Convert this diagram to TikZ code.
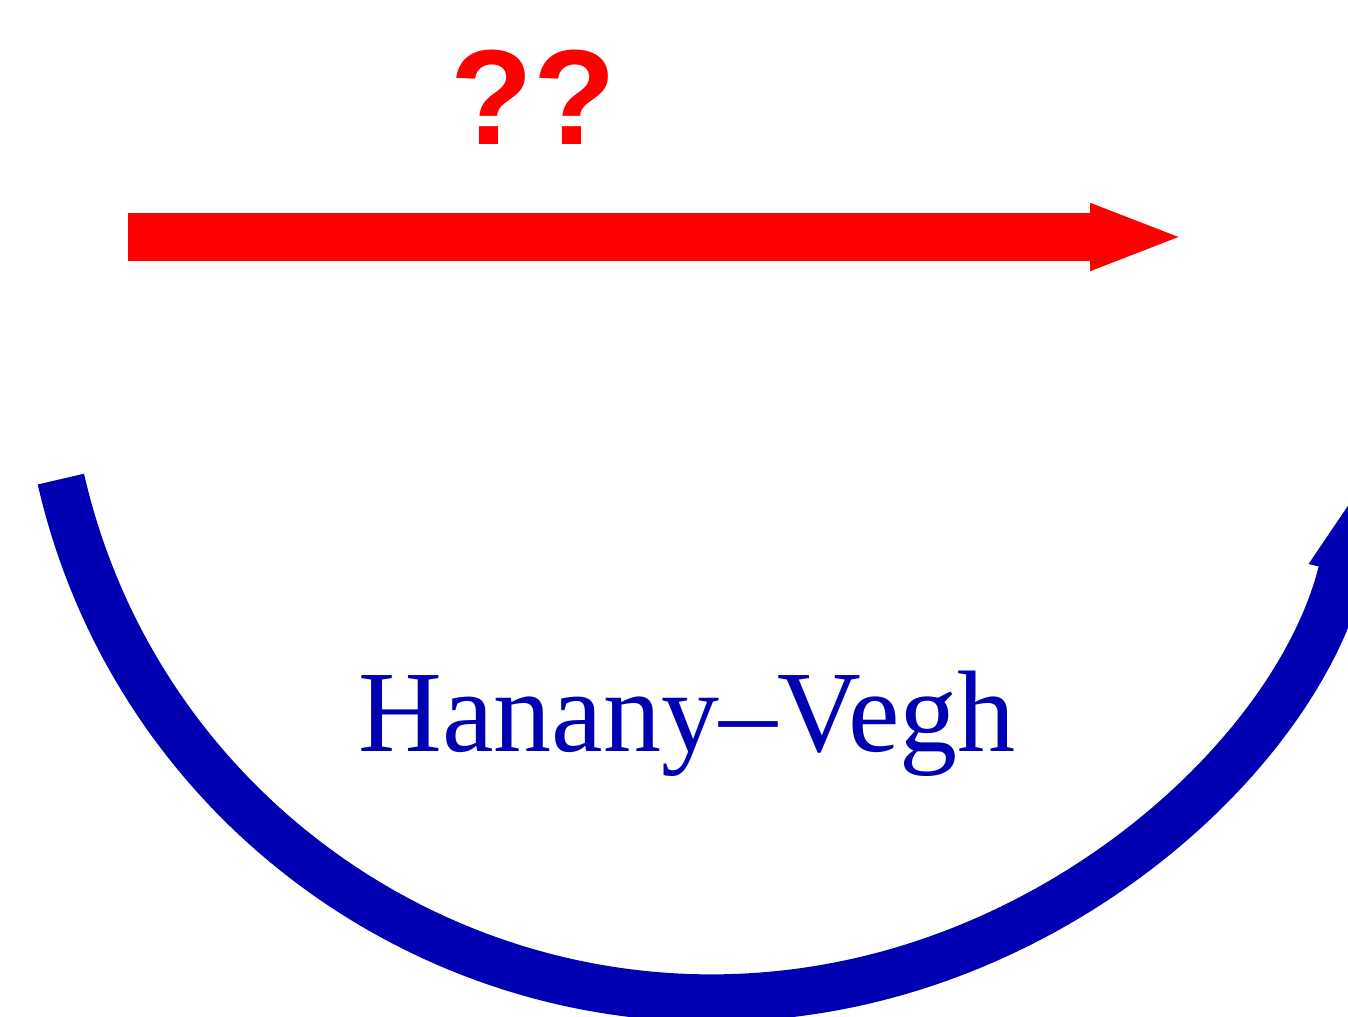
\documentclass[tikz,border=0pt]{standalone}
\usepackage{fontspec}
\setmainfont{Liberation Serif}
\newfontfamily\hvsans{Liberation Sans}
\usetikzlibrary{arrows.meta,calc}
\definecolor{hvred}{RGB}{255,0,0}
\definecolor{hvblue}{RGB}{0,0,178}
\tikzset{
  hvarrow/.style={line width=0.95cm, line cap=butt,
                  -{Triangle[length=1.9cm, width=1.2cm]}},
  hvquery/.style={font=\hvsans\bfseries\fontsize{77}{90}\selectfont,
                  text=hvred, inner sep=0pt, anchor=base},
  hvlab/.style={font=\fontsize{66}{72}\selectfont, text=hvblue,
                inner sep=0pt, anchor=base},
}

\begin{document}
\begin{tikzpicture}
  \useasboundingbox (0,0) rectangle (26.96,20.32);
  \node[hvquery] (Q) at (10.66,17.42) {??};
  \coordinate (Rs) at (2.56,15.58);
  \coordinate (Re) at (23.7,15.58);
  \draw[hvarrow, hvred] (Rs) -- (Re);
  % half circle below, centre (14.24,13.72)
  \coordinate (C) at (14.24,13.72);
  \coordinate (Bs) at ($(C)+(192.9:13.36)$);
  \draw[hvarrow, hvblue] (Bs)
    arc[start angle=192.9, end angle=347.1, radius=13.36];
  \node[hvlab] (HV) at (13.74,5.28) {Hanany--Vegh};
\end{tikzpicture}
\end{document}
